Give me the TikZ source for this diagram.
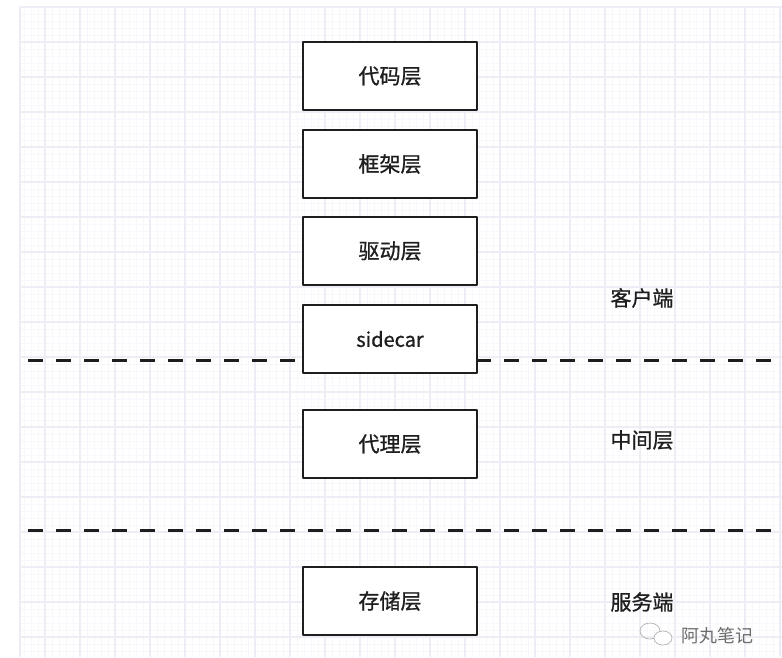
\documentclass[tikz,border=0pt]{standalone}
\usepackage{fontspec}
\setmainfont{Noto Sans CJK SC}
\newfontfamily\heavycjk[FakeBold=0.9]{Noto Sans CJK SC}
\usepackage{tikz}

\definecolor{gridminor}{RGB}{248,248,252}
\definecolor{gridmajor}{RGB}{237,237,246}
\definecolor{boxline}{RGB}{30,30,30}

\tikzset{
    layerbox/.style={draw=boxline, line width=2.8pt, fill=white,
        minimum width=174, minimum height=68, inner sep=0pt,
        font=\heavycjk\fontsize{21}{22}\selectfont, text=boxline},
    zonelabel/.style={font=\heavycjk\fontsize{21}{22}\selectfont, text=boxline},
    zoneline/.style={line width=3pt, draw=boxline, dash pattern=on 15pt off 13pt}
}

\begin{document}
\begin{tikzpicture}[
    x=1pt, y=-1pt,
    line cap=butt,
    line join=round
]
\useasboundingbox (0,0) rectangle (782,658);

% Raster im Hintergrund
\foreach \x in {24,31,...,782}
    \draw[gridminor, line width=0.8pt] (\x,7) -- (\x,657);
\foreach \y in {14,21,...,657}
    \draw[gridminor, line width=0.8pt] (20,\y) -- (782,\y);
\foreach \x in {20,45,80,...,782}
    \draw[gridmajor, line width=1.2pt] (\x,7) -- (\x,657);
\foreach \y in {7,42,77,...,657}
    \draw[gridmajor, line width=1.2pt] (20,\y) -- (782,\y);

% Trennlinien zwischen den Zonen
\draw[zoneline] (28,360) -- (782,360);
\draw[zoneline] (28,530) -- (782,530);

% Schichten
\node[layerbox] (code)    at (390,76)  {代码层};
\node[layerbox] (frame)   at (390,164) {框架层};
\node[layerbox] (driver)  at (390,251) {驱动层};
\node[layerbox, font=\heavycjk\fontsize{20}{22}\selectfont] (sidecar) at (390,339) {sidecar};
\node[layerbox] (proxy)   at (390,444) {代理层};
\node[layerbox] (store)   at (390,601) {存储层};

% Zonen
\node[zonelabel] (client) at (642,298) {客户端};
\node[zonelabel] (middle) at (642,440) {中间层};
\node[zonelabel] (server) at (642,602) {服务端};

% Wasserzeichen
\draw[gray!60, line width=0.7pt] (650,631) ellipse (10 and 8);
\fill[white] (663,638) ellipse (9 and 7);
\draw[gray!60, line width=0.7pt] (663,638) ellipse (9 and 7);
\node[font=\fontsize{18}{20}\selectfont, text=gray!85!black] (mark) at (717,636) {阿丸笔记};

\end{tikzpicture}
\end{document}
